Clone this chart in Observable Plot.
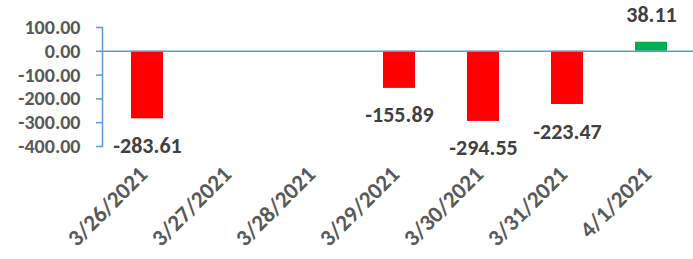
<!DOCTYPE html>
<html>
<head>
<meta charset="utf-8">
<script src="https://cdn.jsdelivr.net/npm/d3@7"></script>
<script src="https://cdn.jsdelivr.net/npm/@observablehq/plot@0.6"></script>
<style>
  html, body { margin: 0; padding: 0; background: #fff; }
  #chart svg { display: block; }
</style>
</head>
<body>
<div id="chart"></div>
<script>
const dates = ["3/26/2021", "3/27/2021", "3/28/2021", "3/29/2021", "3/30/2021", "3/31/2021", "4/1/2021"];
const values = [-283.61, null, null, -155.89, -294.55, -223.47, 38.11];
const yTicks = [100, 0, -100, -200, -300, -400];

const data = dates.map((d, i) => ({date: d, value: values[i]}));
const shown = data.filter(d => d.value != null);
const neg = shown.filter(d => d.value < 0);
const pos = shown.filter(d => d.value >= 0);

const FONT = "Carlito, Calibri, 'Liberation Sans', Arial, sans-serif";
const BLUE = "#5B9BD5";

const chart = Plot.plot({
  width: 693,
  height: 259,
  marginLeft: 102,
  marginRight: 0,
  marginTop: 27,
  marginBottom: 113,
  style: {fontFamily: FONT, background: "#fff"},
  x: {type: "band", domain: dates, range: [102.7, 695.3], paddingInner: 0.62, paddingOuter: 0.31, align: 0.5},
  y: {domain: [-400, 100]},
  marks: [
    Plot.frame({anchor: "left", stroke: BLUE, strokeWidth: 1.5}),
    Plot.barY(shown, {x: "date", y: "value", fill: d => d.value < 0 ? "#FF0000" : "#00B050"}),
    Plot.ruleY([0], {stroke: BLUE, strokeWidth: 1.5}),
    Plot.axisY({ticks: yTicks, tickFormat: d => d.toFixed(2), tickSize: 6, tickPadding: 16,
      stroke: BLUE, strokeWidth: 1.5, fill: "#595959", fontSize: 20, fontWeight: "bold", label: null}),
    Plot.axisX({tickSize: 0, tickPadding: 24, tickRotate: -45, dx: -4, fill: "#595959", fontSize: 23, fontWeight: "bold", label: null}),
    Plot.text(neg, {x: "date", y: "value", text: d => d.value.toFixed(2),
      dy: 27, fill: "#404040", fontSize: 22, fontWeight: "bold"}),
    Plot.text(pos, {x: "date", y: "value", text: d => d.value.toFixed(2),
      dy: -27, fill: "#404040", fontSize: 22, fontWeight: "bold"})
  ]
});
document.getElementById("chart").appendChild(chart);
</script>
</body>
</html>
